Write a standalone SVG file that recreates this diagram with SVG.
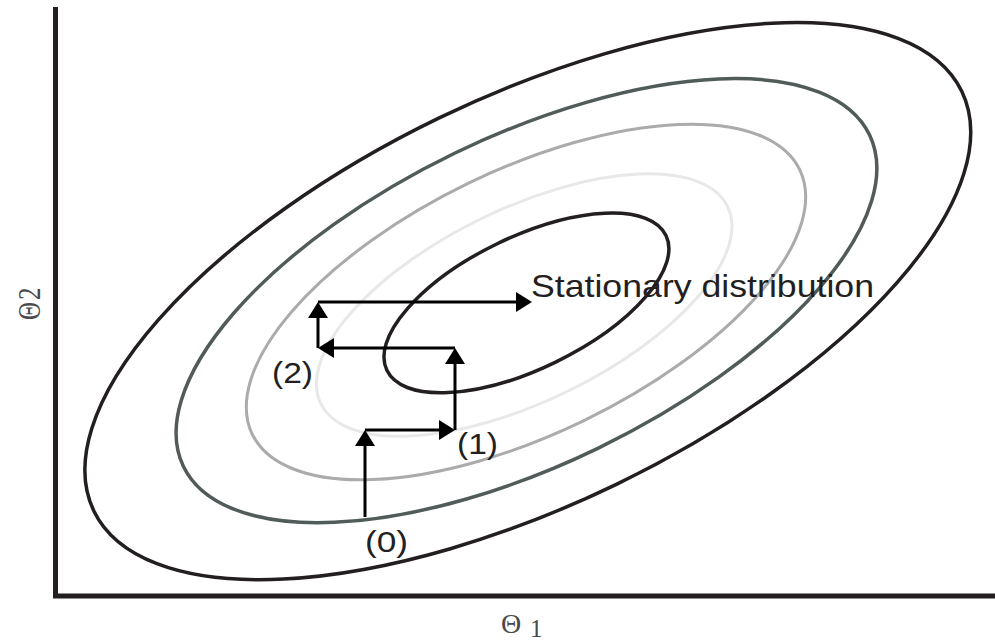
<svg xmlns="http://www.w3.org/2000/svg" width="995" height="644" viewBox="0 0 995 644">
<style>
.c{fill:none}
.lbl{font-family:"Liberation Sans",Arial,sans-serif;fill:#231f20}
.ax{font-family:"Liberation Serif","DejaVu Serif",serif;fill:#4a4a4a}
.arr{fill:none;stroke:#000;stroke-width:3;marker-end:url(#ah)}
</style>
<defs>
<marker id="ah" markerUnits="userSpaceOnUse" markerWidth="16" markerHeight="20" refX="10" refY="10" orient="auto" viewBox="0 0 16 20">
<path d="M0,0 L16,10 L0,20 z" fill="#000"/>
</marker>
</defs>
<rect width="995" height="644" fill="#fff"/>
<g id="axes" fill="none" stroke="#231f20" stroke-width="5">
<path d="M55.5,7 V596 H995"/>
</g>
<g id="contours" transform="rotate(-25.8 526 302)">
<ellipse id="c5" class="c" cx="528" cy="302" rx="482" ry="203.5" stroke="#231f20" stroke-width="3.5"/>
<ellipse id="c4" class="c" cx="527" cy="301" rx="381" ry="164" stroke="#505b5a" stroke-width="3.5"/>
<ellipse id="c3" class="c" cx="526" cy="302" rx="304" ry="132" stroke="#ababab" stroke-width="3"/>
<ellipse id="c2" class="c" cx="523" cy="304" rx="226" ry="96.5" stroke="#e8e8e8" stroke-width="3"/>
<ellipse id="c1" class="c" cx="526" cy="303" rx="155" ry="66" stroke="#231f20" stroke-width="3.5"/>
</g>
<g id="connectors">
<path class="arr" d="M365,517 V436"/>
<path class="arr" d="M365,430 H449"/>
<path class="arr" d="M455,430 V354"/>
<path class="arr" d="M455,348 H324"/>
<path class="arr" d="M318,348 V308"/>
<path class="arr" d="M318,302 H526"/>
</g>
<g id="labels">
<text class="lbl" x="365" y="552" font-size="30" textLength="43" lengthAdjust="spacingAndGlyphs">(0)</text>
<text class="lbl" x="457" y="454" font-size="30" textLength="41" lengthAdjust="spacingAndGlyphs">(1)</text>
<text class="lbl" x="272" y="383" font-size="30" textLength="41" lengthAdjust="spacingAndGlyphs">(2)</text>
<text class="lbl" x="531" y="297" font-size="32" textLength="343" lengthAdjust="spacingAndGlyphs">Stationary distribution</text>
</g>
<g id="axis-labels">
<text class="ax" x="501" y="633" font-size="28">Θ</text>
<text class="ax" x="530" y="637" font-size="25">1</text>
<text class="ax" transform="translate(40,320) rotate(-90) scale(1,1.3)" font-size="25">Θ<tspan dx="2">2</tspan></text>
</g>
</svg>
